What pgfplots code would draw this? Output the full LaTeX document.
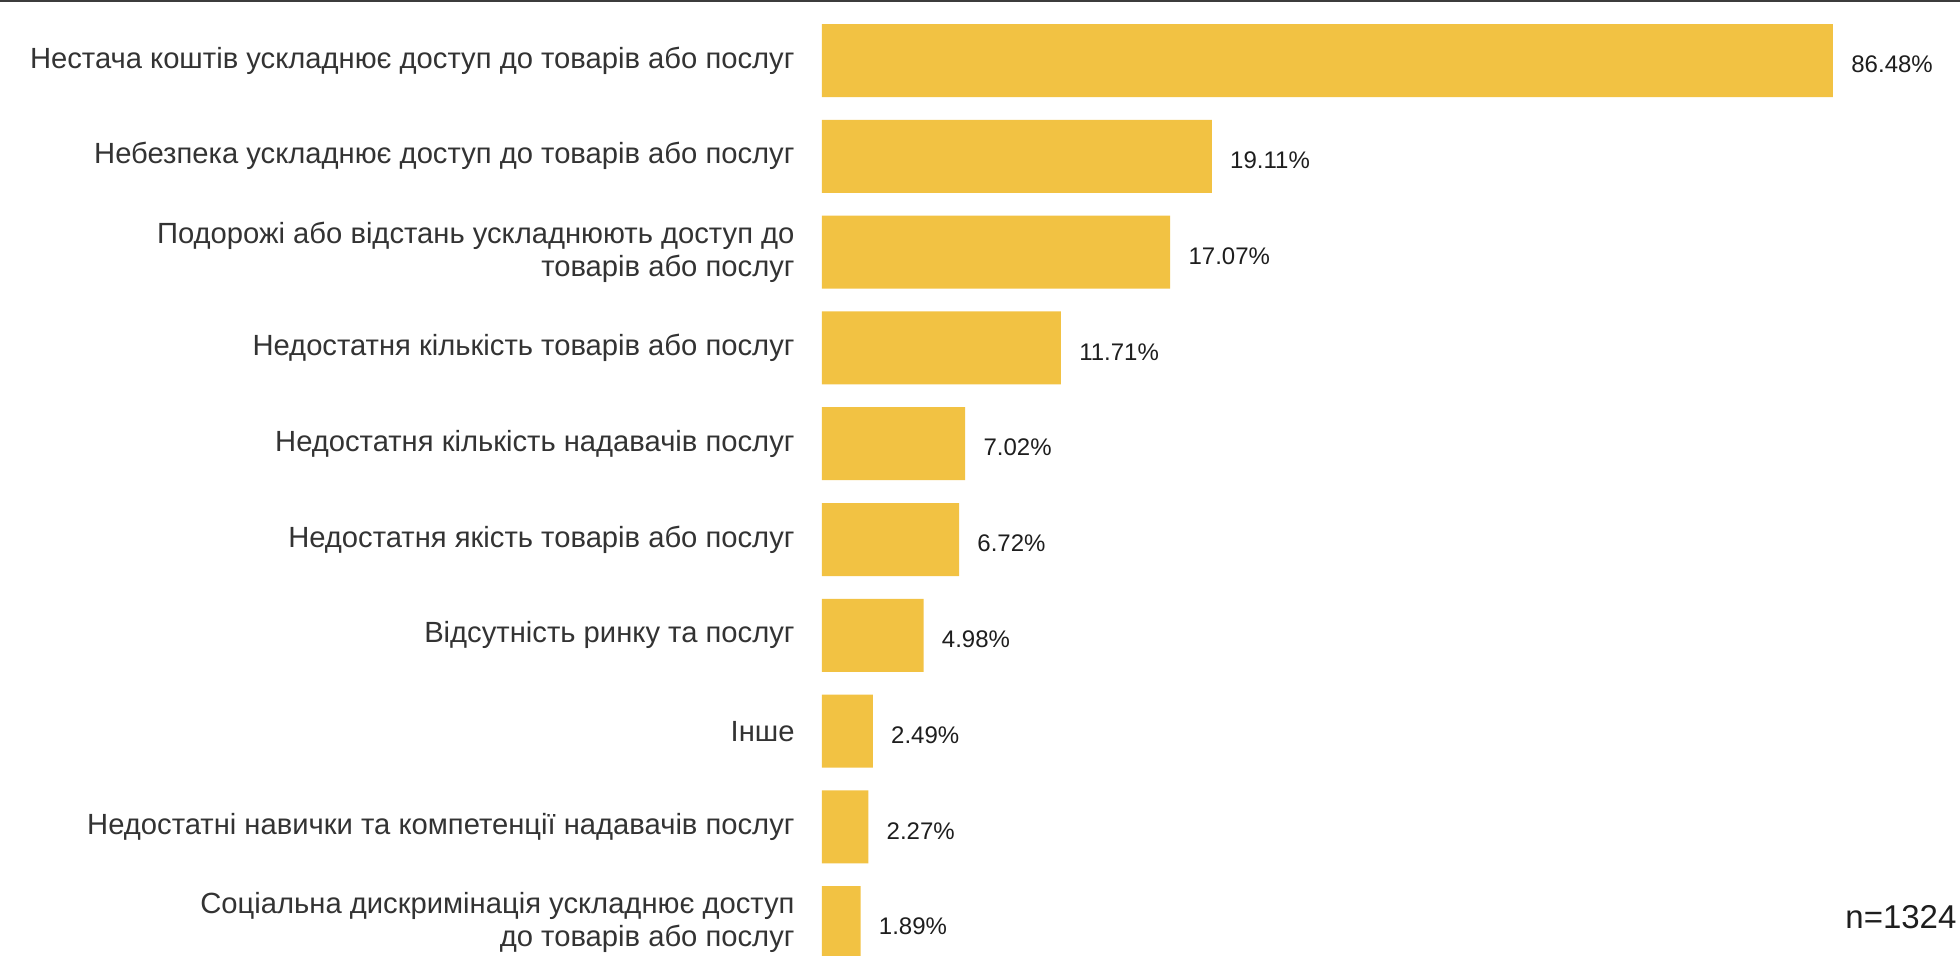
\documentclass[border=0pt]{standalone}
\usepackage{fontspec}
\setmainfont{Liberation Sans}
\usepackage{pgfplots}
\pgfplotsset{compat=1.18}
\usepackage{pgfplotstable}
\definecolor{baryellow}{RGB}{242,194,67}
\definecolor{labelgray}{RGB}{51,51,51}
\definecolor{valgray}{RGB}{30,30,30}
\definecolor{topline}{RGB}{60,60,60}

\pgfplotstableread{
i v
0 86.48
1 19.11
2 17.07
3 11.71
4 7.02
5 6.72
6 4.98
7 2.49
8 2.27
9 1.89
}\datatable

\begin{document}
\begin{tikzpicture}
\begin{axis}[
  name=ax,
  xbar,
  scale only axis,
  width=505.5pt, height=479pt,
  xmin=0, xmax=49.56,
  ymin=-0.5, ymax=9.5,
  y dir=reverse,
  axis line style={draw=none},
  major tick length=0pt,
  xtick=\empty,
  ytick={0,...,9},
  yticklabels={
    {Нестача коштів ускладнює доступ до товарів або послуг},
    {Небезпека ускладнює доступ до товарів або послуг},
    {Подорожі або відстань ускладнюють доступ до\\товарів або послуг},
    {Недостатня кількість товарів або послуг},
    {Недостатня кількість надавачів послуг},
    {Недостатня якість товарів або послуг},
    {Відсутність ринку та послуг},
    {Інше},
    {Недостатні навички та компетенції надавачів послуг},
    {Соціальна дискримінація ускладнює доступ\\до товарів або послуг}
  },
  yticklabel style={font=\fontsize{14.6pt}{16.6pt}\selectfont, color=labelgray, align=right, inner sep=0pt, xshift=-13.5pt},
  bar width=36.5pt,
  clip=false,
  point meta=explicit symbolic,
  nodes near coords={\pgfplotspointmeta\%},
  nodes near coords style={font=\fontsize{12pt}{14pt}\selectfont, color=valgray, anchor=west, inner sep=0pt, xshift=9pt, yshift=-2pt},
]
\addplot[fill=baryellow, draw=none, x filter/.expression={min(x,49.56)}] table[x=v, y=i, meta=v]{\datatable};
\end{axis}
\draw[line width=1pt, color=topline] ([xshift=-411pt, yshift=5.8pt]ax.north west) -- ++(980pt,0);
\node[anchor=west, inner sep=0pt, font=\fontsize{16.5pt}{18pt}\selectfont, color=valgray] at ([xshift=511.5pt, yshift=-452.2pt]ax.north west) {n=1324};
\pgfresetboundingbox
\path[use as bounding box] ([xshift=-411pt, yshift=6.3pt]ax.north west) rectangle ([xshift=569pt, yshift=-471.2pt]ax.north west);
\end{tikzpicture}
\end{document}
